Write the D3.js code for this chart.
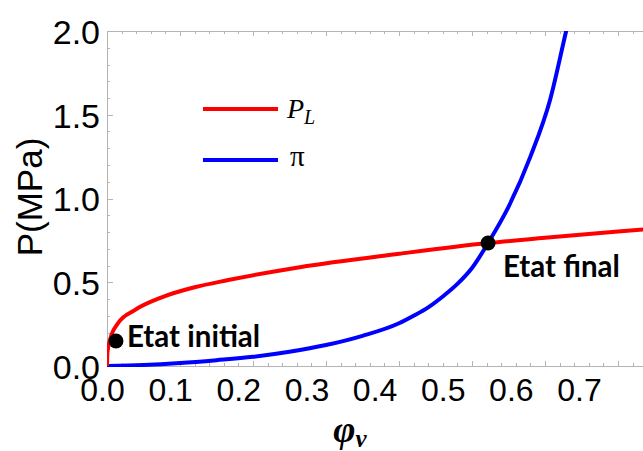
<!DOCTYPE html>
<html><head><meta charset="utf-8">
<script src="https://cdn.jsdelivr.net/npm/d3@7"></script>
<style>html,body{margin:0;padding:0;background:#fff;overflow:hidden}</style>
</head><body>
<svg id="c" width="643" height="451"></svg>
<script>
// ---- data ----
const plPhi = [0, 0.0005, 0.004, 0.015, 0.038, 0.075, 0.12, 0.166, 0.264, 0.4, 0.522, 0.6, 0.7, 0.76];
const plP   = [0, 0.08, 0.155, 0.255, 0.334, 0.41, 0.47, 0.513, 0.59, 0.67, 0.734, 0.765, 0.803, 0.825];
const piPhi = [0, 0.05, 0.1, 0.15, 0.2, 0.25, 0.3, 0.35, 0.4, 0.42, 0.44, 0.46, 0.48, 0.5, 0.522, 0.55, 0.58, 0.607, 0.629, 0.64];
const piP   = [0, 0.006, 0.018, 0.035, 0.055, 0.085, 0.125, 0.18, 0.255, 0.3, 0.35, 0.415, 0.49, 0.585, 0.734, 0.95, 1.25, 1.59, 2.0, 2.2];
const statePhi = [0.0123, 0.522];
const stateP   = [0.149, 0.734];
const stateLabels = ["Etat initial", "Etat final"];
const xTickVals = [0, 0.1, 0.2, 0.3, 0.4, 0.5, 0.6, 0.7];
const yTickVals = [0, 0.5, 1.0, 1.5, 2.0];
const legendNames = ["P_L", "π"];
const colors = ["#ff0000", "#0000ff"];

const svg = d3.select("#c");
const x = d3.scaleLinear().domain([0, 0.8]).range([107, 691]);
const y = d3.scaleLinear().domain([0, 2]).range([366, 31]);
// tick label placement as in the picture
const xl = d3.scaleLinear().domain([0, 0.7]).range([102, 579]);

const frameCol = "#b4b4b4";
const fr = svg.append("g").attr("stroke", frameCol).attr("stroke-width", 1).attr("fill", "none");
fr.append("line").attr("x1", 107.5).attr("x2", 107.5).attr("y1", y(2)).attr("y2", y(0));
fr.append("line").attr("x1", 107).attr("x2", 700).attr("y1", y(2) + 0.5).attr("y2", y(2) + 0.5);
fr.append("line").attr("x1", 107).attr("x2", 700).attr("y1", y(0) + 0.5).attr("y2", y(0) + 0.5);

const minorX = d3.range(0, 0.801, 0.02);
const minorY = d3.range(0, 2.001, 0.1);
const tk = svg.append("g").attr("stroke", frameCol).attr("stroke-width", 1);
minorX.forEach(v => {
  const major = Math.abs(v * 10 - Math.round(v * 10)) < 1e-6;
  const L = major ? 5 : 3;
  const px = Math.round(x(v)) + 0.5;
  tk.append("line").attr("x1", px).attr("x2", px).attr("y1", y(2)).attr("y2", y(2) + L);
  tk.append("line").attr("x1", px).attr("x2", px).attr("y1", y(0)).attr("y2", y(0) - L);
});
minorY.forEach(v => {
  const major = Math.abs(v * 2 - Math.round(v * 2)) < 1e-6;
  const L = major ? 6 : 3;
  const py = Math.round(y(v)) + 0.5;
  tk.append("line").attr("x1", 107).attr("x2", 107 + L).attr("y1", py).attr("y2", py);
});

const xAxis = svg.append("g").attr("transform", "translate(0,378)")
  .call(d3.axisBottom(xl).tickValues(xTickVals).tickFormat(d3.format(".1f")).tickSize(0));
xAxis.select(".domain").remove();
xAxis.selectAll("text").attr("font-family", "Liberation Sans, Arial, sans-serif")
  .attr("font-size", 32).attr("fill", "#000").attr("dy", "0.71em").attr("y", 0);

const yAxis = svg.append("g").attr("transform", "translate(100,0)")
  .call(d3.axisLeft(y).tickValues(yTickVals).tickFormat(d3.format(".1f")).tickSize(0));
yAxis.select(".domain").remove();
yAxis.selectAll("text").attr("font-family", "Liberation Sans, Arial, sans-serif")
  .attr("font-size", 34).attr("fill", "#000").attr("x", 0).attr("dy", "0.36em");

svg.append("text").attr("transform", "translate(42,197) rotate(-90)")
  .attr("text-anchor", "middle").attr("font-family", "Liberation Sans, Arial, sans-serif")
  .attr("font-size", 35).attr("fill", "#000").text("P(MPa)");
const xt = svg.append("text").attr("x", 350).attr("y", 442).attr("text-anchor", "middle")
  .attr("font-family", "Liberation Serif, Times New Roman, serif").attr("font-weight", "bold")
  .attr("font-style", "italic").attr("fill", "#000");
xt.append("tspan").attr("font-size", 38).text("φ");
xt.append("tspan").attr("font-size", 25).attr("dy", 5).text("v");

svg.append("clipPath").attr("id", "clip").append("rect")
  .attr("x", 107).attr("y", 31).attr("width", 600).attr("height", 336);
const line = d3.line().x(d => x(d[0])).y(d => y(d[1])).curve(d3.curveMonotoneX);
const g = svg.append("g").attr("clip-path", "url(#clip)");
g.append("path").datum(piPhi.map((v, i) => [v, piP[i]]))
  .attr("d", line).attr("fill", "none").attr("stroke", colors[1]).attr("stroke-width", 4);
g.append("path").datum(plPhi.map((v, i) => [v, plP[i]]))
  .attr("d", line).attr("fill", "none").attr("stroke", colors[0]).attr("stroke-width", 4);

const lg = svg.append("g");
[109, 160].forEach((ly, i) => {
  lg.append("line").attr("x1", 203).attr("x2", 278).attr("y1", ly).attr("y2", ly)
    .attr("stroke", colors[i]).attr("stroke-width", 4);
});
const t1 = lg.append("text").attr("x", 287).attr("y", 118)
  .attr("font-family", "Liberation Serif, Times New Roman, serif").attr("font-style", "italic").attr("fill", "#000");
t1.append("tspan").attr("font-size", 28).text(legendNames[0].split("_")[0]);
t1.append("tspan").attr("font-size", 20).attr("dy", 6).text(legendNames[0].split("_")[1]);
lg.append("text").attr("x", 290).attr("y", 166)
  .attr("font-family", "Liberation Serif, Times New Roman, serif").attr("font-size", 29)
  .attr("fill", "#000").text(legendNames[1]);

svg.selectAll("circle.st").data(statePhi).enter().append("circle").attr("class", "st")
  .attr("cx", d => x(d)).attr("cy", (d, i) => y(stateP[i])).attr("r", 7.5).attr("fill", "#000");
const labPos = [[127, 347], [503, 277]];
stateLabels.forEach((s, i) => {
  svg.append("text").attr("x", labPos[i][0]).attr("y", labPos[i][1])
    .attr("font-family", "Lato, Liberation Sans, sans-serif").attr("font-weight", "bold")
    .attr("font-size", 29.5).attr("fill", "#000").text(s);
});
</script>
</body></html>
